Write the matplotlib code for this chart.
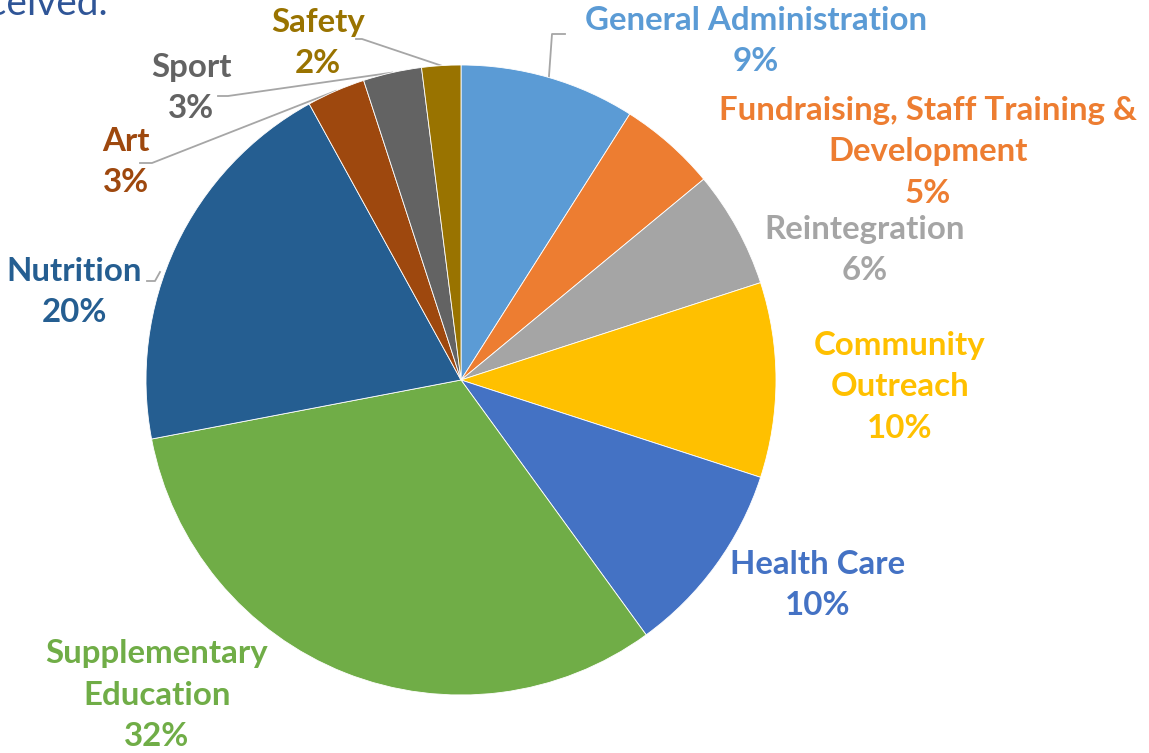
import numpy as np
import matplotlib
matplotlib.use("Agg")
import matplotlib.pyplot as plt
from matplotlib import font_manager

W, H = 1149, 753

# data
categories = ["General Administration", "Fundraising, Staff Training &\nDevelopment",
              "Reintegration", "Community\nOutreach", "Health Care",
              "Supplementary\nEducation", "Nutrition", "Art", "Sport", "Safety"]
shares = [9, 5, 6, 10, 10, 32, 20, 3, 3, 2]
colors = ["#5B9BD5", "#ED7D31", "#A5A5A5", "#FFC000", "#4472C4",
          "#70AD47", "#255E91", "#9E480E", "#636363", "#997300"]

# label centres in pixel coords (x, y from top) of first line
label_pos = [(756, 20), (928, 110), (865, 229), (900, 345), (818, 564),
             (157, 654), (74, 271), (126, 141), (191, 67), (318, 22)]

cx, cy, r = 461, 380, 315
line_h = 41.5

bold_ok = {f.name for f in font_manager.fontManager.ttflist if f.weight in (600, 700, 'bold', 'semibold')}
family = 'Open Sans'
for cand in ['Lato', 'Open Sans', 'Noto Sans', 'Liberation Sans']:
    if cand in bold_ok:
        family = cand
        break
plt.rcParams['font.family'] = [family, 'DejaVu Sans']

fig = plt.figure(figsize=(W / 100, H / 100), dpi=100)
ax = fig.add_axes([0, 0, 1, 1])
ax.set_xlim(0, W)
ax.set_ylim(0, H)
ax.set_aspect('equal')
ax.axis('off')

# size the labels so "General Administration" is about 342 px wide
renderer = fig.canvas.get_renderer()
probe = ax.text(0, 0, "General Administration", fontsize=20, fontweight='bold')
wpx = probe.get_window_extent(renderer).width
probe.remove()
fs = 20 * 342 / wpx

wedges, _ = ax.pie(shares, colors=colors, startangle=90, counterclock=False,
                   center=(cx, H - cy), radius=r, frame=True,
                   wedgeprops=dict(edgecolor='white', linewidth=0.6))
ax.set_xlim(0, W)
ax.set_ylim(0, H)
ax.axis('off')

for name, val, col, (lx, ly) in zip(categories, shares, colors, label_pos):
    lines = name.split("\n") + ["%d%%" % val]
    for k, t in enumerate(lines):
        ax.text(lx, H - (ly + k * line_h), t, ha='center', va='center',
                fontsize=fs, fontweight='bold', color=col)

# leader lines for the small / crowded slices
def edge_point(idx):
    w = wedges[idx]
    mid = np.deg2rad((w.theta1 + w.theta2) / 2)
    return cx + r * np.cos(mid), H - cy + r * np.sin(mid)

leaders = {
    0: [(552, 34), (565, 34)],
    7: [(152, 163), (140, 163)],
    8: [(228, 96), (218, 96)],
    9: [(362, 39), (356, 39)],
}
for idx, pts in leaders.items():
    sx, sy = edge_point(idx)
    xs = [sx] + [p[0] for p in pts]
    ys = [sy] + [H - p[1] for p in pts]
    ax.plot(xs, ys, color='#A6A6A6', lw=1.3, zorder=0.5)
# nutrition leader attaches near the left edge
ax.plot([160, 155, 147], [H - 272, H - 281, H - 281], color='#A6A6A6', lw=1.3, zorder=0.5)

# cut-off text from the page above (only its lower part shows)
ax.text(108, H - 15, "received.", ha='right', va='baseline', fontsize=28,
        color='#2F5597')

fig.savefig("out.png", dpi=100)
